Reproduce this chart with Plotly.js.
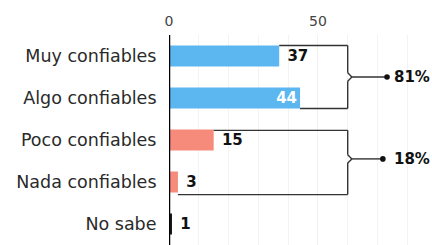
<!DOCTYPE html>
<html><head><meta charset="utf-8">
<script src="https://cdn.plot.ly/plotly-3.0.1.min.js"></script>
<style>html,body{margin:0;padding:0;background:#fff}#chart{width:432px;height:245px}</style>
</head><body><div id="chart"></div>
<script>
const categories = ['Muy confiables', 'Algo confiables', 'Poco confiables', 'Nada confiables', 'No sabe'];
const values = [37, 44, 15, 3, 1];
const groupLabels = ['81%', '18%'];
const xTickVals = [0, 50];
const xTickText = ['0', '50'];

const BLUE = '#5cb6ef', SALMON = '#f68b7c', DARK = '#1a1a1a';
const barColors = [BLUE, BLUE, SALMON, SALMON, DARK];
const textPos = ['outside', 'inside', 'outside', 'outside', 'outside'];
const textCol = ['#111', '#ffffff', '#111', '#111', '#111'];
const FONT = 'DejaVu Sans, sans-serif';

const trace = {
  type: 'bar', orientation: 'h',
  x: values, y: categories,
  marker: {color: barColors},
  texttemplate: values.map((v, i) => textPos[i] === 'inside' ? '%{x}' : ' %{x}'),
  textposition: textPos,
  textangle: 0,
  insidetextanchor: 'end',
  textfont: {family: FONT, size: 15, weight: 700, color: textCol},
  outsidetextfont: {family: FONT, size: 15, weight: 700, color: textCol},
  insidetextfont: {family: FONT, size: 15, weight: 700, color: textCol},
  constraintext: 'none',
  cliponaxis: false,
  hoverinfo: 'none'
};

const LC = '#333';
const LW = 1.4;
const bx = 60, tip = 61.4;
function bracket(x0top, ytop, x0bot, ybot, ymid, dotx) {
  return [
    {type: 'line', x0: x0top, x1: bx, y0: ytop, y1: ytop},
    {type: 'line', x0: bx, x1: bx, y0: ytop, y1: ymid - 0.1},
    {type: 'line', x0: bx, x1: tip, y0: ymid - 0.1, y1: ymid},
    {type: 'line', x0: tip, x1: bx, y0: ymid, y1: ymid + 0.1},
    {type: 'line', x0: bx, x1: bx, y0: ymid + 0.1, y1: ybot},
    {type: 'line', x0: x0bot, x1: bx, y0: ybot, y1: ybot},
    {type: 'line', x0: tip, x1: dotx, y0: ymid, y1: ymid},
    {type: 'circle', xsizemode: 'pixel', ysizemode: 'pixel', xanchor: dotx, yanchor: ymid,
     x0: -2.8, x1: 2.8, y0: -2.8, y1: 2.8, fillcolor: '#111', line: {width: 0}}
  ].map(s => Object.assign({xref: 'x', yref: 'y', line: {color: LC, width: LW}}, s, s.type === 'circle' ? {line: {width: 0}} : {}));
}

const shapes = [].concat(
  bracket(values[0], -0.25, values[1], 1.25, 0.5, 73.2),
  bracket(values[2], 1.77, values[3], 3.3, 2.45, 71.8),
  [{type: 'line', xref: 'x', yref: 'y', x0: 0, x1: 0, y0: -0.6, y1: 4.6, line: {color: '#000', width: 2.5}}]
);

const annotations = [
  {text: groupLabels[0], x: 88.3, y: 0.5},
  {text: groupLabels[1], x: 88.3, y: 2.45}
].map(a => Object.assign({xref: 'x', yref: 'y', xanchor: 'right', yanchor: 'middle', showarrow: false,
  font: {family: FONT, size: 15, weight: 700, color: '#111'}}, a));

const layout = {
  width: 432, height: 245,
  margin: {l: 169, r: 0, t: 35, b: 0},
  paper_bgcolor: '#fff', plot_bgcolor: '#fff',
  bargap: 0.5,
  showlegend: false,
  font: {family: FONT, color: '#333'},
  xaxis: {
    range: [0, 88.3], side: 'top', tickvals: xTickVals, ticktext: xTickText,
    showgrid: true, gridcolor: '#f1f1f1', gridwidth: 1, zeroline: false, showline: false,
    minor: {dtick: 10, showgrid: true, gridcolor: '#f3f3f3'},
    tickfont: {family: FONT, size: 14, color: '#444'}, ticks: '', ticklabelstandoff: 5, fixedrange: true
  },
  yaxis: {
    type: 'category', range: [4.5, -0.5], showgrid: false, zeroline: false, showline: false,
    ticks: 'outside', ticklen: 8, tickcolor: 'rgba(0,0,0,0)',
    tickfont: {family: FONT, size: 17.5, color: '#2a2a2a'}, fixedrange: true
  },
  shapes: shapes,
  annotations: annotations
};

Plotly.newPlot('chart', [trace], layout, {displayModeBar: false, staticPlot: true});
</script>
</body></html>
